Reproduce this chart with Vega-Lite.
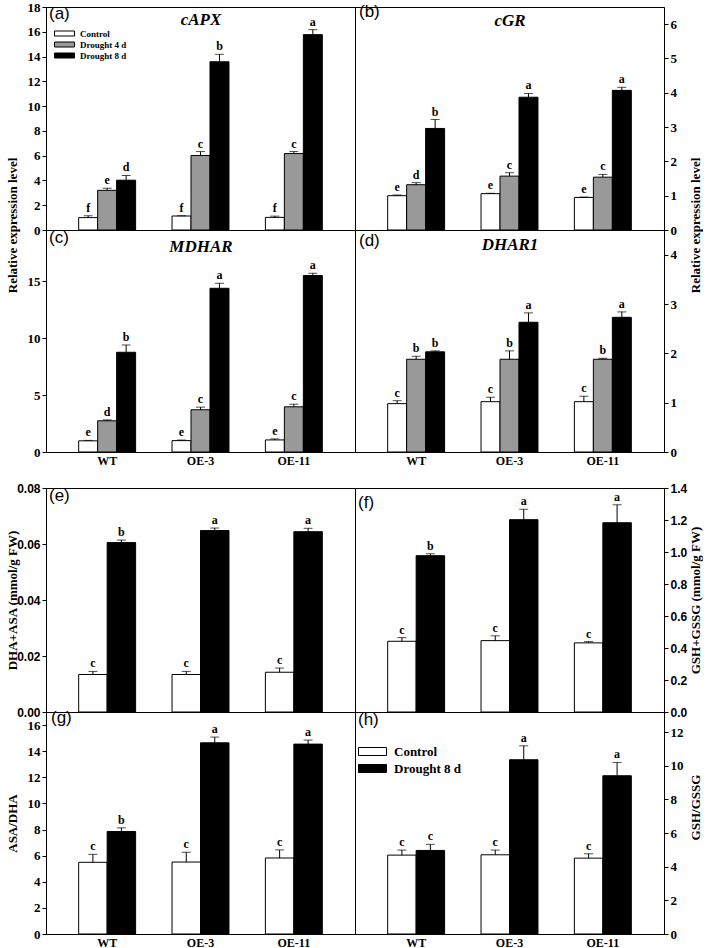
{
 "$schema": "https://vega.github.io/schema/vega-lite/v6.json",
 "padding": {"left": 5, "top": 0, "right": 0, "bottom": 0},
 "autosize": {"type": "pad"},
 "background": "white",
 "config": {
  "view": {"stroke": "black", "strokeWidth": 1},
  "axis": {"grid": false, "domainColor": "black", "tickColor": "black", "tickSize": 4, "labelColor": "black", "titleColor": "black", "labelFont": "Liberation Serif", "labelFontWeight": "bold", "labelFontSize": 13, "titleFont": "Liberation Serif", "titleFontWeight": "bold", "titleFontSize": 13, "labelPadding": 2, "labelOverlap": false, "labelFlush": false},
  "legend": {"labelColor": "black", "labelFont": "Liberation Serif", "labelFontWeight": "bold", "padding": 0, "symbolOpacity": 1}
 },
 "datasets": {
  "d": [
   {"p": "a", "line": "WT", "trt": "Control", "mean": 1.0, "hi": 1.15, "sig": "f"},
   {"p": "a", "line": "WT", "trt": "Drought 4 d", "mean": 3.2, "hi": 3.37, "sig": "e"},
   {"p": "a", "line": "WT", "trt": "Drought 8 d", "mean": 4.02, "hi": 4.4, "sig": "d"},
   {"p": "a", "line": "OE-3", "trt": "Control", "mean": 1.13, "hi": 1.15, "sig": "f"},
   {"p": "a", "line": "OE-3", "trt": "Drought 4 d", "mean": 6.01, "hi": 6.33, "sig": "c"},
   {"p": "a", "line": "OE-3", "trt": "Drought 8 d", "mean": 13.58, "hi": 14.18, "sig": "b"},
   {"p": "a", "line": "OE-11", "trt": "Control", "mean": 1.02, "hi": 1.12, "sig": "f"},
   {"p": "a", "line": "OE-11", "trt": "Drought 4 d", "mean": 6.17, "hi": 6.33, "sig": "c"},
   {"p": "a", "line": "OE-11", "trt": "Drought 8 d", "mean": 15.77, "hi": 16.17, "sig": "a"},
   {"p": "b", "line": "WT", "trt": "Control", "mean": 1.0, "hi": 1.02, "sig": "e"},
   {"p": "b", "line": "WT", "trt": "Drought 4 d", "mean": 1.32, "hi": 1.38, "sig": "d"},
   {"p": "b", "line": "WT", "trt": "Drought 8 d", "mean": 2.96, "hi": 3.22, "sig": "b"},
   {"p": "b", "line": "OE-3", "trt": "Control", "mean": 1.06, "hi": 1.07, "sig": "e"},
   {"p": "b", "line": "OE-3", "trt": "Drought 4 d", "mean": 1.57, "hi": 1.67, "sig": "c"},
   {"p": "b", "line": "OE-3", "trt": "Drought 8 d", "mean": 3.87, "hi": 3.98, "sig": "a"},
   {"p": "b", "line": "OE-11", "trt": "Control", "mean": 0.95, "hi": 0.96, "sig": "e"},
   {"p": "b", "line": "OE-11", "trt": "Drought 4 d", "mean": 1.54, "hi": 1.62, "sig": "c"},
   {"p": "b", "line": "OE-11", "trt": "Drought 8 d", "mean": 4.07, "hi": 4.16, "sig": "a"},
   {"p": "c", "line": "WT", "trt": "Control", "mean": 0.98, "hi": 1.02, "sig": "e"},
   {"p": "c", "line": "WT", "trt": "Drought 4 d", "mean": 2.74, "hi": 2.82, "sig": "d"},
   {"p": "c", "line": "WT", "trt": "Drought 8 d", "mean": 8.76, "hi": 9.4, "sig": "b"},
   {"p": "c", "line": "OE-3", "trt": "Control", "mean": 1.0, "hi": 1.05, "sig": "e"},
   {"p": "c", "line": "OE-3", "trt": "Drought 4 d", "mean": 3.71, "hi": 3.94, "sig": "c"},
   {"p": "c", "line": "OE-3", "trt": "Drought 8 d", "mean": 14.38, "hi": 14.82, "sig": "a"},
   {"p": "c", "line": "OE-11", "trt": "Control", "mean": 1.06, "hi": 1.15, "sig": "e"},
   {"p": "c", "line": "OE-11", "trt": "Drought 4 d", "mean": 3.97, "hi": 4.2, "sig": "c"},
   {"p": "c", "line": "OE-11", "trt": "Drought 8 d", "mean": 15.5, "hi": 15.7, "sig": "a"},
   {"p": "d", "line": "WT", "trt": "Control", "mean": 0.98, "hi": 1.04, "sig": "c"},
   {"p": "d", "line": "WT", "trt": "Drought 4 d", "mean": 1.88, "hi": 1.94, "sig": "b"},
   {"p": "d", "line": "WT", "trt": "Drought 8 d", "mean": 2.03, "hi": 2.05, "sig": "b"},
   {"p": "d", "line": "OE-3", "trt": "Control", "mean": 1.02, "hi": 1.11, "sig": "c"},
   {"p": "d", "line": "OE-3", "trt": "Drought 4 d", "mean": 1.88, "hi": 2.05, "sig": "b"},
   {"p": "d", "line": "OE-3", "trt": "Drought 8 d", "mean": 2.63, "hi": 2.82, "sig": "a"},
   {"p": "d", "line": "OE-11", "trt": "Control", "mean": 1.02, "hi": 1.13, "sig": "c"},
   {"p": "d", "line": "OE-11", "trt": "Drought 4 d", "mean": 1.88, "hi": 1.9, "sig": "b"},
   {"p": "d", "line": "OE-11", "trt": "Drought 8 d", "mean": 2.73, "hi": 2.84, "sig": "a"},
   {"p": "e", "line": "WT", "trt": "Control", "mean": 0.0134, "hi": 0.0145, "sig": "c"},
   {"p": "e", "line": "WT", "trt": "Drought 8 d", "mean": 0.0605, "hi": 0.0614, "sig": "b"},
   {"p": "e", "line": "OE-3", "trt": "Control", "mean": 0.0134, "hi": 0.0145, "sig": "c"},
   {"p": "e", "line": "OE-3", "trt": "Drought 8 d", "mean": 0.0648, "hi": 0.0657, "sig": "a"},
   {"p": "e", "line": "OE-11", "trt": "Control", "mean": 0.0142, "hi": 0.0157, "sig": "c"},
   {"p": "e", "line": "OE-11", "trt": "Drought 8 d", "mean": 0.0644, "hi": 0.0656, "sig": "a"},
   {"p": "f", "line": "WT", "trt": "Control", "mean": 0.442, "hi": 0.465, "sig": "c"},
   {"p": "f", "line": "WT", "trt": "Drought 8 d", "mean": 0.977, "hi": 0.989, "sig": "b"},
   {"p": "f", "line": "OE-3", "trt": "Control", "mean": 0.446, "hi": 0.476, "sig": "c"},
   {"p": "f", "line": "OE-3", "trt": "Drought 8 d", "mean": 1.202, "hi": 1.267, "sig": "a"},
   {"p": "f", "line": "OE-11", "trt": "Control", "mean": 0.432, "hi": 0.44, "sig": "c"},
   {"p": "f", "line": "OE-11", "trt": "Drought 8 d", "mean": 1.183, "hi": 1.295, "sig": "a"},
   {"p": "g", "line": "WT", "trt": "Control", "mean": 5.49, "hi": 6.1, "sig": "c"},
   {"p": "g", "line": "WT", "trt": "Drought 8 d", "mean": 7.85, "hi": 8.13, "sig": "b"},
   {"p": "g", "line": "OE-3", "trt": "Control", "mean": 5.51, "hi": 6.26, "sig": "c"},
   {"p": "g", "line": "OE-3", "trt": "Drought 8 d", "mean": 14.64, "hi": 15.08, "sig": "a"},
   {"p": "g", "line": "OE-11", "trt": "Control", "mean": 5.82, "hi": 6.44, "sig": "c"},
   {"p": "g", "line": "OE-11", "trt": "Drought 8 d", "mean": 14.54, "hi": 14.85, "sig": "a"},
   {"p": "h", "line": "WT", "trt": "Control", "mean": 4.69, "hi": 4.99, "sig": "c"},
   {"p": "h", "line": "WT", "trt": "Drought 8 d", "mean": 4.97, "hi": 5.33, "sig": "c"},
   {"p": "h", "line": "OE-3", "trt": "Control", "mean": 4.71, "hi": 4.99, "sig": "c"},
   {"p": "h", "line": "OE-3", "trt": "Drought 8 d", "mean": 10.36, "hi": 11.19, "sig": "a"},
   {"p": "h", "line": "OE-11", "trt": "Control", "mean": 4.51, "hi": 4.77, "sig": "c"},
   {"p": "h", "line": "OE-11", "trt": "Drought 8 d", "mean": 9.41, "hi": 10.2, "sig": "a"}
  ]
 },
 "columns": 2,
 "spacing": 0,
 "bounds": "flush",
 "resolve": {"scale": {"x": "independent", "y": "independent", "xOffset": "independent", "fill": "independent"}, "axis": {"x": "independent", "y": "independent"}, "legend": {"fill": "independent"}},
 "concat": [
  {
   "width": 309, "height": 223,
   "data": {"name": "d"},
   "transform": [{"filter": "datum.p == 'a'"}],
   "title": {"text": "(a)", "anchor": "start", "frame": "group", "orient": "top", "offset": -35, "baseline": "alphabetic", "dx": 3, "font": "Liberation Sans", "fontSize": 17, "fontWeight": "normal", "color": "black"},
   "encoding": {
    "x": {"field": "line", "type": "nominal", "sort": ["WT", "OE-3", "OE-11"], "scale": {"paddingInner": 0.39, "paddingOuter": 0.35}, "axis": {"orient": "top", "labels": false, "ticks": false, "domain": false, "title": "cAPX", "titleX": 154.5, "titleY": 17, "titleBaseline": "alphabetic", "titleFont": "Liberation Serif", "titleFontSize": 17, "titleFontStyle": "italic", "titleFontWeight": "bold"}},
    "xOffset": {"field": "trt", "type": "nominal", "sort": ["Control", "Drought 4 d", "Drought 8 d"], "scale": {"paddingInner": 0, "paddingOuter": 0}}
   },
   "layer": [
    {"mark": {"type": "bar", "stroke": "black", "strokeWidth": 1},
     "encoding": {
      "y": {"field": "mean", "type": "quantitative", "title": "Relative expression level", "scale": {"domain": [0, 18], "nice": false}, "axis": {"orient": "left", "values": [0, 2, 4, 6, 8, 10, 12, 14, 16, 18], "labelOverlap": false, "labelFont": "Liberation Serif", "labelFontWeight": "bold", "labelFontSize": 13, "labelPadding": 2, "tickSize": 4, "titleFont": "Liberation Serif", "titleFontWeight": "bold", "titleFontSize": 13, "titleX": -34, "titleY": 218, "titleAngle": 270, "titleBaseline": "middle", "titleAlign": "center"}},
      "fill": {"field": "trt", "type": "nominal", "scale": {"domain": ["Control", "Drought 4 d", "Drought 8 d"], "range": ["white", "#999999", "black"]}, "legend": {"orient": "none", "legendX": 13, "legendY": 21, "title": null, "symbolType": "M-2,-0.5H2V0.5H-2Z", "symbolSize": 100, "symbolStrokeColor": "black", "symbolStrokeWidth": 1, "labelFontSize": 9, "labelOffset": 10, "rowPadding": 0}}
     }},
    {"mark": {"type": "rule", "color": "black", "strokeWidth": 1}, "encoding": {"y": {"field": "mean", "type": "quantitative", "title": "Relative expression level", "axis": {"values": [0, 2, 4, 6, 8, 10, 12, 14, 16, 18], "labelOverlap": false}}, "y2": {"field": "hi"}}},
    {"mark": {"type": "tick", "color": "black", "thickness": 1, "size": 9}, "encoding": {"y": {"field": "hi", "type": "quantitative", "title": "Relative expression level", "axis": {"values": [0, 2, 4, 6, 8, 10, 12, 14, 16, 18], "labelOverlap": false}}}},
    {"mark": {"type": "text", "baseline": "alphabetic", "dy": -4, "fontSize": 12, "fontWeight": "bold", "font": "Liberation Serif", "color": "black"}, "encoding": {"y": {"field": "hi", "type": "quantitative", "title": "Relative expression level", "axis": {"values": [0, 2, 4, 6, 8, 10, 12, 14, 16, 18], "labelOverlap": false}}, "text": {"field": "sig"}}}
   ]
  },
  {
   "width": 309, "height": 223,
   "data": {"name": "d"},
   "transform": [{"filter": "datum.p == 'b'"}],
   "title": {"text": "(b)", "anchor": "start", "frame": "group", "orient": "top", "offset": -27, "baseline": "alphabetic", "dx": 4, "font": "Liberation Sans", "fontSize": 17, "fontWeight": "normal", "color": "black"},
   "encoding": {
    "x": {"field": "line", "type": "nominal", "sort": ["WT", "OE-3", "OE-11"], "scale": {"paddingInner": 0.39, "paddingOuter": 0.35}, "axis": {"orient": "top", "labels": false, "ticks": false, "domain": false, "title": "cGR", "titleX": 154.5, "titleY": 18, "titleBaseline": "alphabetic", "titleFont": "Liberation Serif", "titleFontSize": 17, "titleFontStyle": "italic", "titleFontWeight": "bold"}},
    "xOffset": {"field": "trt", "type": "nominal", "sort": ["Control", "Drought 4 d", "Drought 8 d"], "scale": {"paddingInner": 0, "paddingOuter": 0}}
   },
   "layer": [
    {"mark": {"type": "bar", "stroke": "black", "strokeWidth": 1},
     "encoding": {
      "y": {"field": "mean", "type": "quantitative", "title": "Relative expression level", "scale": {"domain": [0, 6.5], "nice": false}, "axis": {"orient": "right", "values": [0, 1, 2, 3, 4, 5, 6], "labelOverlap": false, "labelFont": "Liberation Serif", "labelFontWeight": "bold", "labelFontSize": 13, "labelPadding": 2, "tickSize": 4, "titleFont": "Liberation Serif", "titleFontWeight": "bold", "titleFontSize": 13, "titleX": 31, "titleY": 218, "titleAngle": 270, "titleBaseline": "middle", "titleAlign": "center"}},
      "fill": {"field": "trt", "type": "nominal", "scale": {"domain": ["Control", "Drought 4 d", "Drought 8 d"], "range": ["white", "#999999", "black"]}, "legend": null}
     }},
    {"mark": {"type": "rule", "color": "black", "strokeWidth": 1}, "encoding": {"y": {"field": "mean", "type": "quantitative", "title": "Relative expression level", "axis": {"values": [0, 1, 2, 3, 4, 5, 6], "labelOverlap": false}}, "y2": {"field": "hi"}}},
    {"mark": {"type": "tick", "color": "black", "thickness": 1, "size": 9}, "encoding": {"y": {"field": "hi", "type": "quantitative", "title": "Relative expression level", "axis": {"values": [0, 1, 2, 3, 4, 5, 6], "labelOverlap": false}}}},
    {"mark": {"type": "text", "baseline": "alphabetic", "dy": -4, "fontSize": 12, "fontWeight": "bold", "font": "Liberation Serif", "color": "black"}, "encoding": {"y": {"field": "hi", "type": "quantitative", "title": "Relative expression level", "axis": {"values": [0, 1, 2, 3, 4, 5, 6], "labelOverlap": false}}, "text": {"field": "sig"}}}
   ]
  },
  {
   "width": 309, "height": 222,
   "data": {"name": "d"},
   "transform": [{"filter": "datum.p == 'c'"}],
   "title": {"text": "(c)", "anchor": "start", "frame": "group", "orient": "top", "offset": -30, "baseline": "alphabetic", "dx": 3, "font": "Liberation Sans", "fontSize": 17, "fontWeight": "normal", "color": "black"},
   "encoding": {
    "x": {"field": "line", "type": "nominal", "sort": ["WT", "OE-3", "OE-11"], "scale": {"paddingInner": 0.39, "paddingOuter": 0.35}, "axis": {"orient": "bottom", "labelAngle": 0, "ticks": false, "labelPadding": 3, "labelFont": "Liberation Serif", "labelFontWeight": "bold", "labelFontSize": 12, "title": "MDHAR", "titleX": 154.5, "titleY": -201, "titleBaseline": "alphabetic", "titleFont": "Liberation Serif", "titleFontSize": 17, "titleFontStyle": "italic", "titleFontWeight": "bold"}},
    "xOffset": {"field": "trt", "type": "nominal", "sort": ["Control", "Drought 4 d", "Drought 8 d"], "scale": {"paddingInner": 0, "paddingOuter": 0}}
   },
   "layer": [
    {"mark": {"type": "bar", "stroke": "black", "strokeWidth": 1},
     "encoding": {
      "y": {"field": "mean", "type": "quantitative", "title": null, "scale": {"domain": [0, 19.5], "nice": false}, "axis": {"orient": "left", "values": [0, 5, 10, 15], "labelOverlap": false, "labelFont": "Liberation Serif", "labelFontWeight": "bold", "labelFontSize": 13, "labelPadding": 2, "tickSize": 4}},
      "fill": {"field": "trt", "type": "nominal", "scale": {"domain": ["Control", "Drought 4 d", "Drought 8 d"], "range": ["white", "#999999", "black"]}, "legend": null}
     }},
    {"mark": {"type": "rule", "color": "black", "strokeWidth": 1}, "encoding": {"y": {"field": "mean", "type": "quantitative", "title": null, "axis": {"values": [0, 5, 10, 15], "labelOverlap": false}}, "y2": {"field": "hi"}}},
    {"mark": {"type": "tick", "color": "black", "thickness": 1, "size": 9}, "encoding": {"y": {"field": "hi", "type": "quantitative", "title": null, "axis": {"values": [0, 5, 10, 15], "labelOverlap": false}}}},
    {"mark": {"type": "text", "baseline": "alphabetic", "dy": -4, "fontSize": 12, "fontWeight": "bold", "font": "Liberation Serif", "color": "black"}, "encoding": {"y": {"field": "hi", "type": "quantitative", "title": null, "axis": {"values": [0, 5, 10, 15], "labelOverlap": false}}, "text": {"field": "sig"}}}
   ]
  },
  {
   "width": 309, "height": 222,
   "data": {"name": "d"},
   "transform": [{"filter": "datum.p == 'd'"}],
   "title": {"text": "(d)", "anchor": "start", "frame": "group", "orient": "top", "offset": -33, "baseline": "alphabetic", "dx": 4, "font": "Liberation Sans", "fontSize": 17, "fontWeight": "normal", "color": "black"},
   "encoding": {
    "x": {"field": "line", "type": "nominal", "sort": ["WT", "OE-3", "OE-11"], "scale": {"paddingInner": 0.39, "paddingOuter": 0.35}, "axis": {"orient": "bottom", "labelAngle": 0, "ticks": false, "labelPadding": 3, "labelFont": "Liberation Serif", "labelFontWeight": "bold", "labelFontSize": 12, "title": "DHAR1", "titleX": 154.5, "titleY": -203, "titleBaseline": "alphabetic", "titleFont": "Liberation Serif", "titleFontSize": 17, "titleFontStyle": "italic", "titleFontWeight": "bold"}},
    "xOffset": {"field": "trt", "type": "nominal", "sort": ["Control", "Drought 4 d", "Drought 8 d"], "scale": {"paddingInner": 0, "paddingOuter": 0}}
   },
   "layer": [
    {"mark": {"type": "bar", "stroke": "black", "strokeWidth": 1},
     "encoding": {
      "y": {"field": "mean", "type": "quantitative", "title": null, "scale": {"domain": [0, 4.5], "nice": false}, "axis": {"orient": "right", "values": [0, 1, 2, 3, 4], "labelOverlap": false, "labelFont": "Liberation Serif", "labelFontWeight": "bold", "labelFontSize": 13, "labelPadding": 2, "tickSize": 4}},
      "fill": {"field": "trt", "type": "nominal", "scale": {"domain": ["Control", "Drought 4 d", "Drought 8 d"], "range": ["white", "#999999", "black"]}, "legend": null}
     }},
    {"mark": {"type": "rule", "color": "black", "strokeWidth": 1}, "encoding": {"y": {"field": "mean", "type": "quantitative", "title": null, "axis": {"values": [0, 1, 2, 3, 4], "labelOverlap": false}}, "y2": {"field": "hi"}}},
    {"mark": {"type": "tick", "color": "black", "thickness": 1, "size": 9}, "encoding": {"y": {"field": "hi", "type": "quantitative", "title": null, "axis": {"values": [0, 1, 2, 3, 4], "labelOverlap": false}}}},
    {"mark": {"type": "text", "baseline": "alphabetic", "dy": -4, "fontSize": 12, "fontWeight": "bold", "font": "Liberation Serif", "color": "black"}, "encoding": {"y": {"field": "hi", "type": "quantitative", "title": null, "axis": {"values": [0, 1, 2, 3, 4], "labelOverlap": false}}, "text": {"field": "sig"}}}
   ]
  },
  {"width": 309, "height": 36, "view": {"stroke": null}, "data": {"values": [{"k": 1}]}, "mark": {"type": "text", "text": ""}},
  {"width": 309, "height": 36, "view": {"stroke": null}, "data": {"values": [{"k": 1}]}, "mark": {"type": "text", "text": ""}},
  {
   "width": 309, "height": 224,
   "data": {"name": "d"},
   "transform": [{"filter": "datum.p == 'e'"}],
   "title": {"text": "(e)", "anchor": "start", "frame": "group", "orient": "top", "offset": -35.5, "baseline": "alphabetic", "dx": 3, "font": "Liberation Sans", "fontSize": 17, "fontWeight": "normal", "color": "black"},
   "encoding": {
    "x": {"field": "line", "type": "nominal", "sort": ["WT", "OE-3", "OE-11"], "scale": {"paddingInner": 0.39, "paddingOuter": 0.35}, "axis": null},
    "xOffset": {"field": "trt", "type": "nominal", "sort": ["Control", "Drought 8 d"], "scale": {"paddingInner": 0, "paddingOuter": 0}}
   },
   "layer": [
    {"mark": {"type": "bar", "stroke": "black", "strokeWidth": 1},
     "encoding": {
      "y": {"field": "mean", "type": "quantitative", "title": "DHA+ASA (mmol/g FW)", "scale": {"domain": [0, 0.08], "nice": false}, "axis": {"orient": "left", "values": [0, 0.02, 0.04, 0.06, 0.08], "labelOverlap": false, "format": ".2f", "labelFont": "Liberation Sans", "labelFontWeight": "bold", "labelFontSize": 12, "labelPadding": 2, "tickSize": 4, "titleFont": "Liberation Serif", "titleFontWeight": "bold", "titleFontSize": 13, "titleX": -34, "titleAngle": 270, "titleBaseline": "middle", "titleAlign": "center"}},
      "fill": {"field": "trt", "type": "nominal", "scale": {"domain": ["Control", "Drought 8 d"], "range": ["white", "black"]}, "legend": null}
     }},
    {"mark": {"type": "rule", "color": "black", "strokeWidth": 1}, "encoding": {"y": {"field": "mean", "type": "quantitative", "title": "DHA+ASA (mmol/g FW)", "axis": {"values": [0, 0.02, 0.04, 0.06, 0.08], "labelOverlap": false, "format": ".2f"}}, "y2": {"field": "hi"}}},
    {"mark": {"type": "tick", "color": "black", "thickness": 1, "size": 9}, "encoding": {"y": {"field": "hi", "type": "quantitative", "title": "DHA+ASA (mmol/g FW)", "axis": {"values": [0, 0.02, 0.04, 0.06, 0.08], "labelOverlap": false, "format": ".2f"}}}},
    {"mark": {"type": "text", "baseline": "alphabetic", "dy": -4, "fontSize": 12, "fontWeight": "bold", "font": "Liberation Serif", "color": "black"}, "encoding": {"y": {"field": "hi", "type": "quantitative", "title": "DHA+ASA (mmol/g FW)", "axis": {"values": [0, 0.02, 0.04, 0.06, 0.08], "labelOverlap": false, "format": ".2f"}}, "text": {"field": "sig"}}}
   ]
  },
  {
   "width": 309, "height": 224,
   "data": {"name": "d"},
   "transform": [{"filter": "datum.p == 'f'"}],
   "title": {"text": "(f)", "anchor": "start", "frame": "group", "orient": "top", "offset": -43, "baseline": "alphabetic", "dx": 3, "font": "Liberation Sans", "fontSize": 17, "fontWeight": "normal", "color": "black"},
   "encoding": {
    "x": {"field": "line", "type": "nominal", "sort": ["WT", "OE-3", "OE-11"], "scale": {"paddingInner": 0.39, "paddingOuter": 0.35}, "axis": null},
    "xOffset": {"field": "trt", "type": "nominal", "sort": ["Control", "Drought 8 d"], "scale": {"paddingInner": 0, "paddingOuter": 0}}
   },
   "layer": [
    {"mark": {"type": "bar", "stroke": "black", "strokeWidth": 1},
     "encoding": {
      "y": {"field": "mean", "type": "quantitative", "title": "GSH+GSSG (mmol/g FW)", "scale": {"domain": [0, 1.4], "nice": false}, "axis": {"orient": "right", "values": [0, 0.2, 0.4, 0.6, 0.8, 1.0, 1.2, 1.4], "labelOverlap": false, "format": ".1f", "labelFont": "Liberation Sans", "labelFontWeight": "bold", "labelFontSize": 12, "labelPadding": 2, "tickSize": 4, "titleFont": "Liberation Serif", "titleFontWeight": "bold", "titleFontSize": 13, "titleX": 31, "titleAngle": 270, "titleBaseline": "middle", "titleAlign": "center"}},
      "fill": {"field": "trt", "type": "nominal", "scale": {"domain": ["Control", "Drought 8 d"], "range": ["white", "black"]}, "legend": null}
     }},
    {"mark": {"type": "rule", "color": "black", "strokeWidth": 1}, "encoding": {"y": {"field": "mean", "type": "quantitative", "title": "GSH+GSSG (mmol/g FW)", "axis": {"values": [0, 0.2, 0.4, 0.6, 0.8, 1.0, 1.2, 1.4], "labelOverlap": false, "format": ".1f"}}, "y2": {"field": "hi"}}},
    {"mark": {"type": "tick", "color": "black", "thickness": 1, "size": 9}, "encoding": {"y": {"field": "hi", "type": "quantitative", "title": "GSH+GSSG (mmol/g FW)", "axis": {"values": [0, 0.2, 0.4, 0.6, 0.8, 1.0, 1.2, 1.4], "labelOverlap": false, "format": ".1f"}}}},
    {"mark": {"type": "text", "baseline": "alphabetic", "dy": -4, "fontSize": 12, "fontWeight": "bold", "font": "Liberation Serif", "color": "black"}, "encoding": {"y": {"field": "hi", "type": "quantitative", "title": "GSH+GSSG (mmol/g FW)", "axis": {"values": [0, 0.2, 0.4, 0.6, 0.8, 1.0, 1.2, 1.4], "labelOverlap": false, "format": ".1f"}}, "text": {"field": "sig"}}}
   ]
  },
  {
   "width": 309, "height": 222,
   "data": {"name": "d"},
   "transform": [{"filter": "datum.p == 'g'"}],
   "title": {"text": "(g)", "anchor": "start", "frame": "group", "orient": "top", "offset": -28, "baseline": "alphabetic", "dx": 5, "font": "Liberation Sans", "fontSize": 17, "fontWeight": "normal", "color": "black"},
   "encoding": {
    "x": {"field": "line", "type": "nominal", "sort": ["WT", "OE-3", "OE-11"], "scale": {"paddingInner": 0.39, "paddingOuter": 0.35}, "axis": {"orient": "bottom", "labelAngle": 0, "ticks": false, "labelPadding": 3, "labelFont": "Liberation Serif", "labelFontWeight": "bold", "labelFontSize": 12, "title": null}},
    "xOffset": {"field": "trt", "type": "nominal", "sort": ["Control", "Drought 8 d"], "scale": {"paddingInner": 0, "paddingOuter": 0}}
   },
   "layer": [
    {"mark": {"type": "bar", "stroke": "black", "strokeWidth": 1},
     "encoding": {
      "y": {"field": "mean", "type": "quantitative", "title": "ASA/DHA", "scale": {"domain": [0, 17], "nice": false}, "axis": {"orient": "left", "values": [0, 2, 4, 6, 8, 10, 12, 14, 16], "labelOverlap": false, "labelFont": "Liberation Serif", "labelFontWeight": "bold", "labelFontSize": 13, "labelPadding": 2, "tickSize": 4, "titleFont": "Liberation Serif", "titleFontWeight": "bold", "titleFontSize": 13, "titleX": -34, "titleAngle": 270, "titleBaseline": "middle", "titleAlign": "center"}},
      "fill": {"field": "trt", "type": "nominal", "scale": {"domain": ["Control", "Drought 8 d"], "range": ["white", "black"]}, "legend": null}
     }},
    {"mark": {"type": "rule", "color": "black", "strokeWidth": 1}, "encoding": {"y": {"field": "mean", "type": "quantitative", "title": "ASA/DHA", "axis": {"values": [0, 2, 4, 6, 8, 10, 12, 14, 16], "labelOverlap": false}}, "y2": {"field": "hi"}}},
    {"mark": {"type": "tick", "color": "black", "thickness": 1, "size": 9}, "encoding": {"y": {"field": "hi", "type": "quantitative", "title": "ASA/DHA", "axis": {"values": [0, 2, 4, 6, 8, 10, 12, 14, 16], "labelOverlap": false}}}},
    {"mark": {"type": "text", "baseline": "alphabetic", "dy": -4, "fontSize": 12, "fontWeight": "bold", "font": "Liberation Serif", "color": "black"}, "encoding": {"y": {"field": "hi", "type": "quantitative", "title": "ASA/DHA", "axis": {"values": [0, 2, 4, 6, 8, 10, 12, 14, 16], "labelOverlap": false}}, "text": {"field": "sig"}}}
   ]
  },
  {
   "width": 309, "height": 222,
   "data": {"name": "d"},
   "transform": [{"filter": "datum.p == 'h'"}],
   "title": {"text": "(h)", "anchor": "start", "frame": "group", "orient": "top", "offset": -30, "baseline": "alphabetic", "dx": 3, "font": "Liberation Sans", "fontSize": 17, "fontWeight": "normal", "color": "black"},
   "encoding": {
    "x": {"field": "line", "type": "nominal", "sort": ["WT", "OE-3", "OE-11"], "scale": {"paddingInner": 0.39, "paddingOuter": 0.35}, "axis": {"orient": "bottom", "labelAngle": 0, "ticks": false, "labelPadding": 3, "labelFont": "Liberation Serif", "labelFontWeight": "bold", "labelFontSize": 12, "title": null}},
    "xOffset": {"field": "trt", "type": "nominal", "sort": ["Control", "Drought 8 d"], "scale": {"paddingInner": 0, "paddingOuter": 0}}
   },
   "layer": [
    {"mark": {"type": "bar", "stroke": "black", "strokeWidth": 1},
     "encoding": {
      "y": {"field": "mean", "type": "quantitative", "title": "GSH/GSSG", "scale": {"domain": [0, 13.2], "nice": false}, "axis": {"orient": "right", "values": [0, 2, 4, 6, 8, 10, 12], "labelOverlap": false, "labelFont": "Liberation Serif", "labelFontWeight": "bold", "labelFontSize": 13, "labelPadding": 2, "tickSize": 4, "titleFont": "Liberation Serif", "titleFontWeight": "bold", "titleFontSize": 13, "titleX": 31, "titleY": 95, "titleAngle": 270, "titleBaseline": "middle", "titleAlign": "center"}},
      "fill": {"field": "trt", "type": "nominal", "scale": {"domain": ["Control", "Drought 8 d"], "range": ["white", "black"]}, "legend": {"orient": "none", "legendX": 10, "legendY": 32, "title": null, "symbolType": "M-2,-0.57H2V0.57H-2Z", "symbolSize": 196, "symbolStrokeColor": "black", "symbolStrokeWidth": 1, "labelFontSize": 13, "labelOffset": 14, "rowPadding": 2}}
     }},
    {"mark": {"type": "rule", "color": "black", "strokeWidth": 1}, "encoding": {"y": {"field": "mean", "type": "quantitative", "title": "GSH/GSSG", "axis": {"values": [0, 2, 4, 6, 8, 10, 12], "labelOverlap": false}}, "y2": {"field": "hi"}}},
    {"mark": {"type": "tick", "color": "black", "thickness": 1, "size": 9}, "encoding": {"y": {"field": "hi", "type": "quantitative", "title": "GSH/GSSG", "axis": {"values": [0, 2, 4, 6, 8, 10, 12], "labelOverlap": false}}}},
    {"mark": {"type": "text", "baseline": "alphabetic", "dy": -4, "fontSize": 12, "fontWeight": "bold", "font": "Liberation Serif", "color": "black"}, "encoding": {"y": {"field": "hi", "type": "quantitative", "title": "GSH/GSSG", "axis": {"values": [0, 2, 4, 6, 8, 10, 12], "labelOverlap": false}}, "text": {"field": "sig"}}}
   ]
  }
 ]
}
